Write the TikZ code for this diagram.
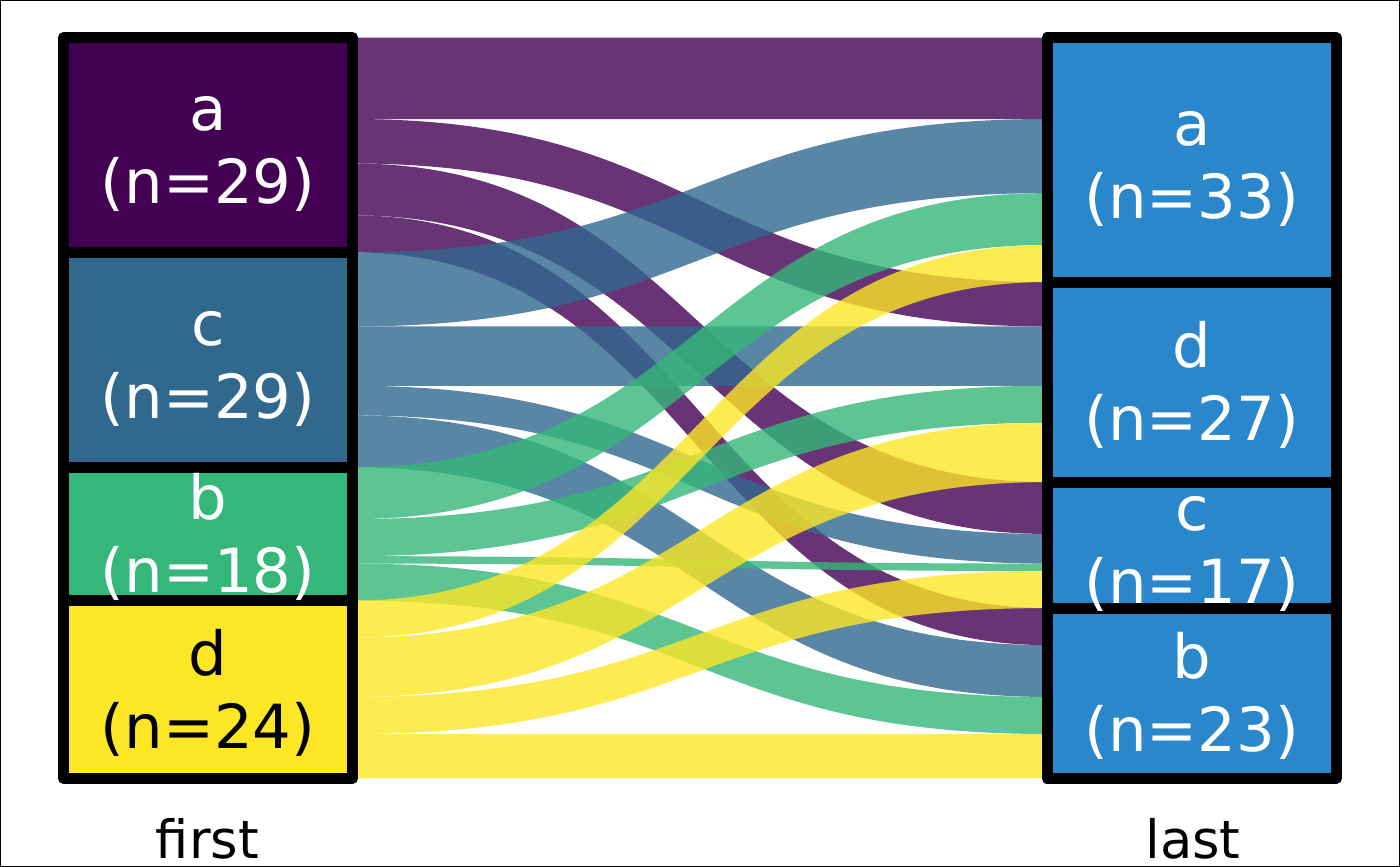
\documentclass[tikz,border=0pt]{standalone}
\usepackage{fontspec}
\newfontfamily\djv{DejaVu Sans}
\usetikzlibrary{positioning}
\definecolor{va}{HTML}{440154}
\definecolor{vc}{HTML}{31688E}
\definecolor{vb}{HTML}{35B779}
\definecolor{vd}{HTML}{FDE725}
\definecolor{lastblue}{HTML}{2B87CC}
\newcommand{\band}[5]{%
  \fill[flow, #5] (352.5,#1) .. controls (699.75,#1) and (699.75,#3) .. (1047,#3)
    -- (1047,#4) .. controls (699.75,#4) and (699.75,#2) .. (352.5,#2) -- cycle;}

\begin{document}
\begin{tikzpicture}[x=0.01cm, y=-0.07405cm,
    stratum/.style={rectangle, draw=black, line width=0.11cm, line join=round,
      inner sep=0pt, outer sep=0pt, minimum width=2.89cm},
    flow/.style={fill opacity=0.8},
    lab/.style={text=white, font=\djv\fontsize{17.3pt}{20.77pt}\selectfont,
      align=center, anchor=base, yshift=-0.585cm},
    axislab/.style={font=\djv\fontsize{15pt}{18pt}\selectfont, anchor=base}]
  \useasboundingbox (0,-5.064) rectangle (1400,111.884);
  \draw[line width=0.01cm] (0.5,-4.997) rectangle (1399.5,111.816);

  \band{0}{11}{0}{11}{va}
  \band{11}{17}{33}{39}{va}
  \band{17}{24}{60}{67}{va}
  \band{24}{29}{77}{82}{va}
  \band{29}{39}{11}{21}{vc}
  \band{39}{47}{39}{47}{vc}
  \band{47}{51}{67}{71}{vc}
  \band{51}{58}{82}{89}{vc}
  \band{58}{65}{21}{28}{vb}
  \band{65}{70}{47}{52}{vb}
  \band{70}{71}{71}{72}{vb}
  \band{71}{76}{89}{94}{vb}
  \band{76}{81}{28}{33}{vd}
  \band{81}{89}{52}{60}{vd}
  \band{89}{94}{72}{77}{vd}
  \band{94}{100}{94}{100}{vd}

  \node[stratum, fill=va, minimum height=29*0.07405cm, anchor=north] (fa) at (208,0) {};
  \node[stratum, fill=vc, minimum height=29*0.07405cm, below=0pt of fa] (fc) {};
  \node[stratum, fill=vb, minimum height=18*0.07405cm, below=0pt of fc] (fb) {};
  \node[stratum, fill=vd, minimum height=24*0.07405cm, below=0pt of fb] (fd) {};

  \node[stratum, fill=lastblue, minimum height=33*0.07405cm, anchor=north] (la) at (1191.75,0) {};
  \node[stratum, fill=lastblue, minimum height=27*0.07405cm, below=0pt of la] (ld) {};
  \node[stratum, fill=lastblue, minimum height=17*0.07405cm, below=0pt of ld] (lc) {};
  \node[stratum, fill=lastblue, minimum height=23*0.07405cm, below=0pt of lc] (lb) {};

  \node[lab] (nfa) at (fa.center) {a\\(n=29)};
  \node[lab] (nfc) at (fc.center) {c\\(n=29)};
  \node[lab] (nfb) at (fb.center) {b\\(n=18)};
  \node[lab, text=black] (nfd) at (fd.center) {d\\(n=24)};
  \node[lab] (nla) at (la.center) {a\\(n=33)};
  \node[lab] (nld) at (ld.center) {d\\(n=27)};
  \node[lab] (nlc) at (lc.center) {c\\(n=17)};
  \node[lab] (nlb) at (lb.center) {b\\(n=23)};

  \node[axislab] (first) at (207.5,110.8) {first};
  \node[axislab] (last) at (1193,110.8) {last};
\end{tikzpicture}
\end{document}
